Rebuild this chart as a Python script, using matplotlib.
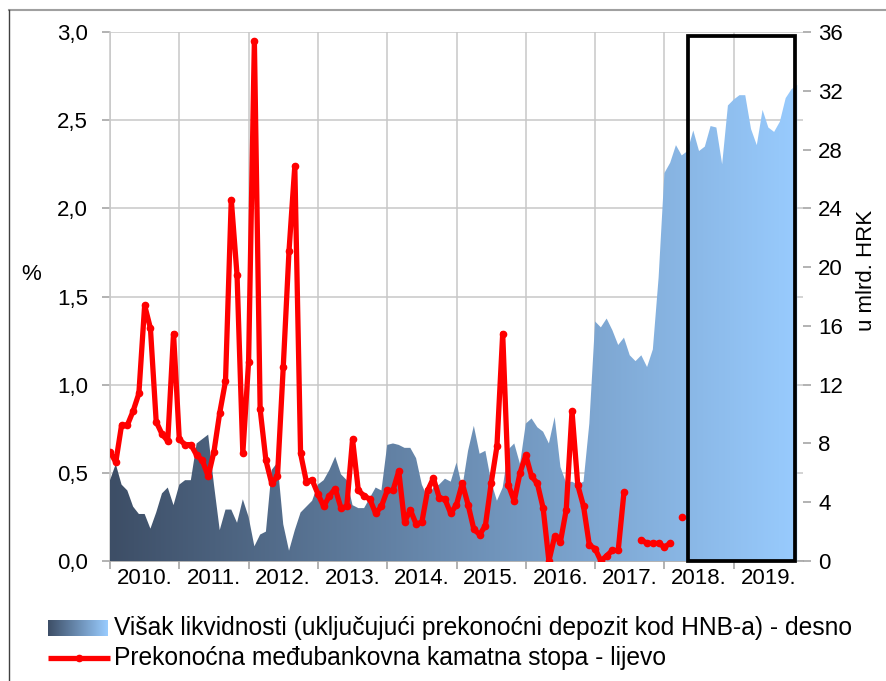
import numpy as np
import matplotlib
matplotlib.use("Agg")
import matplotlib.pyplot as plt
from matplotlib.colors import LinearSegmentedColormap
from matplotlib.lines import Line2D
from matplotlib.patches import Rectangle

plt.rcParams['font.family'] = ['Liberation Sans', 'DejaVu Sans']

years = ['2010.', '2011.', '2012.', '2013.', '2014.', '2015.', '2016.', '2017.', '2018.', '2019.']

# excess liquidity, bn HRK (right axis), monthly Jan 2010 - Dec 2019
liquidity = [
    5.5, 6.6, 5.2, 4.8, 3.7, 3.2, 3.2, 2.2, 3.3, 4.6, 5.0, 3.8,
    5.2, 5.5, 5.5, 8.0, 8.3, 8.6, 5.2, 2.1, 3.5, 3.5, 2.6, 4.2,
    3.0, 1.0, 1.8, 2.0, 6.2, 6.7, 2.5, 0.7, 2.1, 3.3, 3.7, 4.1,
    5.2, 5.5, 6.2, 7.1, 5.9, 5.5, 3.8, 3.6, 3.6, 4.3, 5.0, 4.8,
    7.9, 8.0, 7.9, 7.7, 7.7, 7.0, 5.2, 4.3, 5.0, 5.2, 5.6, 5.4,
    6.7, 5.0, 7.5, 9.2, 7.3, 7.5, 5.4, 4.1, 5.0, 7.6, 8.0, 6.6,
    9.35, 9.7, 9.1, 8.8, 8.0, 9.8, 6.4, 5.3, 5.4, 5.2, 5.4, 9.35,
    16.3, 15.9, 16.5, 15.7, 14.7, 15.2, 14.0, 13.6, 14.0, 13.2, 14.4, 19.3,
    26.4, 27.1, 28.3, 27.6, 27.9, 29.3, 27.9, 28.2, 29.6, 29.5, 27.0, 31.0,
    31.4, 31.7, 31.7, 29.4, 28.3, 30.7, 29.5, 29.2, 29.9, 31.5, 32.1, 32.4,
]

nan = np.nan
# overnight interbank rate, % (left axis)
overnight = [
    0.62, 0.56, 0.77, 0.77, 0.85, 0.95, 1.45, 1.32, 0.79, 0.72, 0.68, 1.29,
    0.69, 0.66, 0.66, 0.60, 0.57, 0.48, 0.62, 0.84, 1.02, 2.05, 1.62, 0.61,
    1.13, 2.95, 0.86, 0.57, 0.44, 0.48, 1.10, 1.76, 2.24, 0.61, 0.45, 0.46,
    0.38, 0.31, 0.37, 0.41, 0.30, 0.31, 0.69, 0.40, 0.37, 0.35, 0.27, 0.31,
    0.40, 0.40, 0.51, 0.22, 0.29, 0.21, 0.22, 0.40, 0.47, 0.36, 0.35, 0.27,
    0.32, 0.44, 0.32, 0.18, 0.15, 0.20, 0.44, 0.65, 1.29, 0.43, 0.34, 0.50,
    0.60, 0.48, 0.44, 0.30, 0.00, 0.14, 0.11, 0.29, 0.85, 0.43, 0.31, 0.09,
    0.07, 0.00, 0.03, 0.06, 0.06, 0.39, nan, nan, 0.12, 0.10, 0.10, 0.10,
    0.08, 0.10, nan, 0.25, nan, nan, nan, nan, nan, nan, nan, nan,
    nan, nan, nan, nan, nan, nan, nan, nan, nan, nan, nan, nan,
]

months = np.arange(len(liquidity))
grid_c = '#c8c8c8'
fs = 16

fig = plt.figure(figsize=(8.86, 6.81), dpi=100)
ax = fig.add_axes([110 / 886, 120 / 681, 693 / 886, 529 / 681])
ax2 = ax.twinx()
ax3 = ax.twinx()

# base axis: grid, x ticks, left ticks
ax.set_xlim(0, 120)
ax.set_ylim(0, 3)
ax.set_xticks(np.arange(0, 120, 12))
ax.set_xticklabels([])
ax.set_xticks(np.arange(6, 120, 12), minor=True)
ax.set_xticklabels(years, minor=True, fontsize=fs)
ax.tick_params(axis='x', which='major', length=6, width=1.2, color='#a6a6a6')
ax.tick_params(axis='x', which='minor', length=0, pad=5)
ax.set_yticks(np.arange(0, 3.01, 0.5))
ax.set_yticklabels([f'{v:.1f}'.replace('.', ',') for v in np.arange(0, 3.01, 0.5)], fontsize=fs)
ax.tick_params(axis='y', length=6, width=1.2, color='#a6a6a6', pad=10)
ax.grid(True, color=grid_c, linewidth=1.1)
for s in ['top', 'right']:
    ax.spines[s].set_visible(False)
ax.spines['left'].set_color(grid_c)
ax.spines['left'].set_linewidth(1.1)
ax.spines['bottom'].set_color('#a6a6a6')
ax.spines['bottom'].set_linewidth(1.2)

# area with horizontal gradient, right axis
ax2.set_ylim(0, 36)
ax2.set_yticks(np.arange(0, 37, 4))
ax2.set_yticklabels([str(v) for v in range(0, 37, 4)], fontsize=fs)
ax2.tick_params(axis='y', length=6, width=1.2, color='#a6a6a6', pad=5)
for s in ax2.spines.values():
    s.set_visible(False)
poly = ax2.fill_between(months, liquidity, 0, color='none', linewidth=0)
cmap = LinearSegmentedColormap.from_list('liq', ['#3d4e66', '#99ccff'])
grad = np.linspace(0, 1, 256).reshape(1, -1)
img = ax2.imshow(grad, cmap=cmap, extent=(0, 120, 0, 36), aspect='auto', origin='lower', zorder=1)
img.set_clip_path(poly.get_paths()[0], transform=ax2.transData)
ax2.set_xlim(0, 120)
ax2.set_ylim(0, 36)

# red line and frame, left scale
ax3.set_ylim(0, 3)
ax3.set_xlim(0, 120)
ax3.set_yticks([])
for s in ax3.spines.values():
    s.set_visible(False)
ax3.plot(months, overnight, color='#ff0000', linewidth=3.8, marker='o', markersize=4.5,
         solid_joinstyle='round', solid_capstyle='round')
ax3.add_patch(Rectangle((100.1, 0), 18.6, 2.98, fill=False, edgecolor='black',
                        linewidth=2.7, clip_on=False, zorder=5))

fig.text(31 / 886, 1 - 275 / 681, '%', fontsize=fs, ha='center', va='center')
fig.text(866 / 886, 1 - 270 / 681, 'u mlrd. HRK', fontsize=fs, rotation=90,
         ha='center', va='center')

# legend
lfs = 17.7
lax = fig.add_axes([48 / 886, 1 - 636 / 681, 60 / 886, 16 / 681])
lax.imshow(grad, cmap=cmap, aspect='auto')
lax.axis('off')
fig.add_artist(Line2D([48 / 886, 79 / 886, 110 / 886], [1 - 658 / 681] * 3, color='#ff0000',
                      linewidth=3.8, marker='o', markersize=4.5, markevery=[1], solid_capstyle='butt'))
fig.text(114 / 886, 1 - 628 / 681, 'Višak likvidnosti (uključujući prekonoćni depozit kod HNB-a) - desno',
         fontsize=lfs, va='center')
fig.text(114 / 886, 1 - 658 / 681, 'Prekonoćna međubankovna kamatna stopa - lijevo',
         fontsize=lfs, va='center')

# outer frame (top and left only)
fig.add_artist(Line2D([9 / 886, 1], [1 - 10 / 681] * 2, color='#a0a0a0', linewidth=1.5))
fig.add_artist(Line2D([9 / 886] * 2, [0, 1 - 10 / 681], color='#404040', linewidth=1))

fig.savefig('out.png', dpi=100)
